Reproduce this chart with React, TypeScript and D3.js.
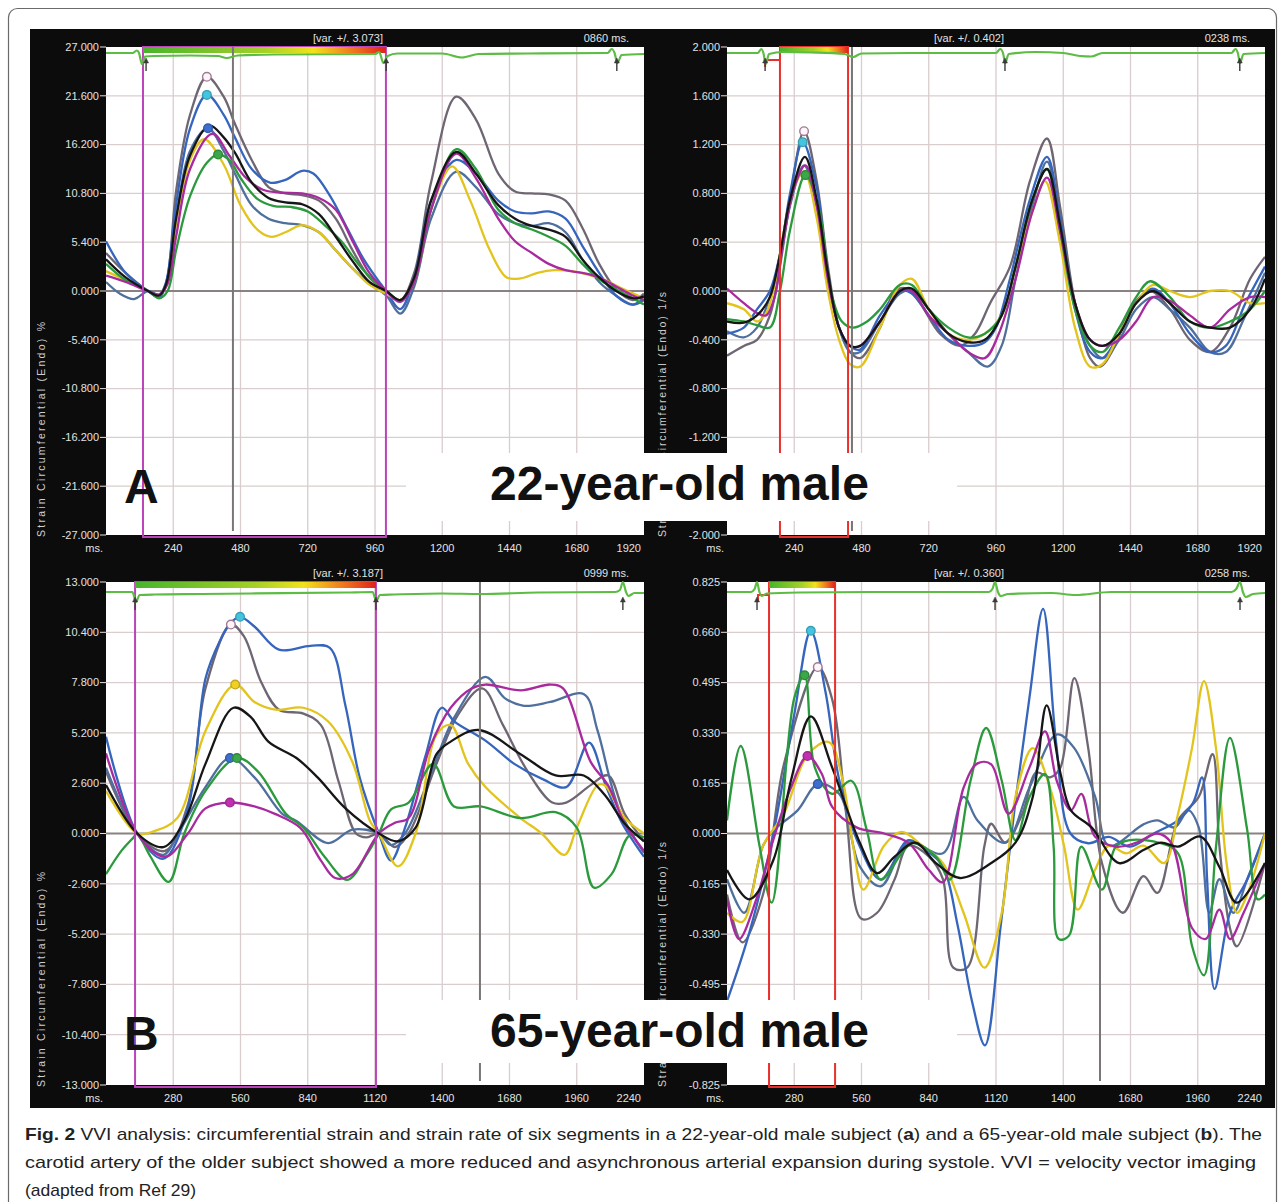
import React from 'react';
import * as d3 from 'd3';

type Pt = [number, number];
type Mark = [string, number, number];

const W = 1281;
const H = 1202;

const colors: Record<string, string> = {
  gray: '#6e6673',
  blue2: '#4f6f9d',
  blue1: '#3565bd',
  yellow: '#e2c41c',
  green: '#2b9a3c',
  magenta: '#a82a9e',
  black: '#161616',
};
const drawOrder = ['gray', 'blue2', 'blue1', 'yellow', 'green', 'magenta', 'black'];

const markerFill: Record<string, string> = {
  gray: '#fdf5fa',
  blue1: '#45c4e0',
  blue2: '#3d6fd0',
  green: '#3aa848',
  yellow: '#f0d020',
  magenta: '#c030b0',
};

// ---------- axes
const msTicksTop = [240, 480, 720, 960, 1200, 1440, 1680, 1920];
const msTicksBottom = [280, 560, 840, 1120, 1400, 1680, 1960, 2240];
const strainTicksA = [27, 21.6, 16.2, 10.8, 5.4, 0, -5.4, -10.8, -16.2, -21.6, -27];
const rateTicksA = [2, 1.6, 1.2, 0.8, 0.4, 0, -0.4, -0.8, -1.2, -1.6, -2];
const strainTicksB = [13, 10.4, 7.8, 5.2, 2.6, 0, -2.6, -5.2, -7.8, -10.4, -13];
const rateTicksB = [0.825, 0.66, 0.495, 0.33, 0.165, 0, -0.165, -0.33, -0.495, -0.66, -0.825];

// ---------- A: strain, 22-year-old (ms, %)
const aGray: Pt[] = [[0,4.2],[70,2.0],[150,0],[190,-0.6],[215,0.8],[250,11],[300,19.5],[360,23.7],[420,21.5],[460,18.5],[520,14.5],[580,11.5],[640,10.8],[700,10.6],[760,10.0],[820,8.0],[880,4.5],[940,1.5],[1000,0],[1050,-1.0],[1100,2],[1160,12],[1250,21.5],[1320,19],[1400,13],[1460,11],[1520,10.8],[1580,10.7],[1640,10],[1700,7],[1760,3],[1820,0.2],[1880,-1],[1920,-0.3]];
const aBlue1: Pt[] = [[0,5.5],[70,2.0],[150,0],[190,-0.7],[215,1.0],[250,9.5],[300,18],[360,21.7],[420,19.5],[460,17],[520,13.5],[585,12.0],[640,12.3],[700,13.3],[740,13.0],[800,10.5],[860,7],[920,3.5],[980,0.8],[1000,0],[1050,-2.0],[1100,1.5],[1160,10],[1250,14.5],[1320,13],[1400,10],[1460,8.8],[1520,8.6],[1580,8.8],[1640,8.0],[1700,5],[1760,2],[1820,-0.5],[1880,-1.5],[1920,-0.8]];
const aBlue2: Pt[] = [[0,1.0],[50,-0.3],[100,-0.9],[150,0],[190,-0.4],[215,1.0],[250,8],[300,15.5],[364,18.0],[420,15.5],[460,13],[520,9.5],[580,8.0],[640,7.5],[700,7.3],[760,6.5],[820,4.5],[880,2.5],[940,0.8],[1000,-0.5],[1050,-2.5],[1100,0.5],[1160,8],[1250,13.2],[1320,11.5],[1400,8.5],[1460,7.5],[1520,7.2],[1580,7.5],[1640,6.5],[1700,3.5],[1760,1],[1820,-0.5],[1880,-1.5],[1920,-1.0]];
const aBlack: Pt[] = [[0,3.5],[70,1.5],[150,0],[190,-0.5],[215,0.8],[250,8],[300,15],[370,18.3],[420,17],[460,15.3],[520,12],[580,10.3],[640,9.8],[700,9.6],[760,8.5],[820,6],[880,3.3],[940,1.0],[1000,0],[1050,-1.0],[1100,1.5],[1160,10],[1250,15.4],[1320,13],[1400,9.5],[1460,8.0],[1520,7.2],[1580,6.8],[1640,6.0],[1700,3.5],[1760,1.5],[1820,0],[1880,-0.8],[1920,-0.6]];
const aMagenta: Pt[] = [[0,1.7],[70,1.0],[150,0],[190,-0.4],[220,0.8],[250,6],[300,13.5],[380,17.4],[440,15],[500,12.5],[560,11.2],[620,10.9],[700,10.8],[760,10.3],[820,9.0],[880,5.5],[940,2.0],[1000,0],[1050,-1.2],[1100,1.0],[1160,9],[1250,15.2],[1320,12.5],[1400,8.0],[1460,5.5],[1520,4.2],[1580,3.0],[1640,2.3],[1700,2.0],[1760,1.5],[1820,0.5],[1880,-0.5],[1920,-1.0]];
const aYellow: Pt[] = [[0,2.2],[70,1.2],[150,0],[190,-0.5],[220,1.0],[250,7.5],[300,14.5],[350,16.8],[420,14],[480,9.5],[540,6.8],[590,6.0],[640,6.5],[700,7.3],[760,6.5],[820,4.5],[880,2.5],[940,0.7],[1000,-0.3],[1050,-1.0],[1100,1.0],[1160,9],[1235,13.8],[1300,10],[1370,4.5],[1430,1.5],[1480,1.4],[1540,2.0],[1600,2.3],[1660,2.2],[1720,1.8],[1780,1.2],[1840,0.3],[1920,-0.8]];
const aGreen: Pt[] = [[0,3.0],[70,1.2],[150,0],[190,-0.8],[220,0],[250,4.5],[300,10.5],[360,14.2],[400,15.1],[440,14.5],[480,12.5],[540,10.2],[600,9.4],[660,9.3],[720,8.8],[780,7.3],[840,5.5],[900,3.0],[960,1.0],[1000,0],[1050,-1.0],[1100,1.0],[1160,9],[1250,15.7],[1320,13.5],[1400,9.0],[1460,7.5],[1520,6.8],[1580,6.0],[1640,5.0],[1700,3.0],[1760,1.3],[1820,0.2],[1880,-0.8],[1920,-1.5]];
const aMarkers: Mark[] = [['gray',360,23.7],['blue1',360,21.7],['blue2',364,18.0],['green',400,15.1]];
const aEcg: Pt[] = [[0,0],[95,0],[110,0.25],[118,0],[128,-1.1],[140,-0.35],[170,-0.3],[300,-0.25],[400,-0.3],[430,-0.5],[470,-0.25],[600,-0.15],[960,-0.1],[975,0.1],[990,-1.0],[1005,-0.3],[1040,-0.05],[1200,-0.05],[1270,-0.45],[1330,-0.1],[1500,-0.05],[1790,0],[1805,0.4],[1815,0],[1825,-1.0],[1840,-0.2],[1920,-0.1]];

// ---------- A: strain rate, 22-year-old (ms, 1/s)
const arGray: Pt[] = [[0,-0.53],[60,-0.45],[107,-0.40],[153,-0.2],[189,0.2],[225,0.75],[275,1.31],[320,0.9],[360,0.2],[400,-0.3],[439,-0.5],[475,-0.55],[546,-0.3],[600,0.0],[640,0.02],[689,-0.1],[760,-0.35],[832,-0.45],[885,-0.35],[939,-0.1],[1010,0.2],[1081,0.9],[1142,1.25],[1188,0.7],[1242,-0.1],[1296,-0.55],[1331,-0.62],[1385,-0.45],[1438,-0.15],[1510,0.0],[1581,-0.15],[1652,-0.4],[1724,-0.5],[1795,-0.3],[1867,0.1],[1920,0.28]];
const arBlue1: Pt[] = [[0,-0.35],[60,-0.30],[107,-0.15],[153,0.0],[189,0.3],[225,0.8],[270,1.22],[320,0.85],[360,0.15],[400,-0.3],[439,-0.45],[475,-0.48],[546,-0.2],[617,0.0],[660,-0.02],[720,-0.2],[790,-0.4],[860,-0.45],[920,-0.42],[960,-0.3],[1010,0.1],[1081,0.75],[1142,1.1],[1188,0.6],[1242,-0.15],[1296,-0.5],[1340,-0.55],[1400,-0.35],[1460,-0.1],[1520,0.02],[1580,-0.1],[1652,-0.35],[1724,-0.5],[1780,-0.45],[1850,-0.1],[1920,0.2]];
const arBlue2: Pt[] = [[0,-0.33],[60,-0.38],[107,-0.3],[153,-0.05],[189,0.25],[225,0.7],[275,1.03],[320,0.7],[360,0.1],[400,-0.3],[439,-0.5],[475,-0.5],[546,-0.25],[617,-0.02],[660,0.0],[720,-0.15],[790,-0.35],[860,-0.5],[930,-0.62],[980,-0.45],[1030,0.1],[1090,0.7],[1142,1.06],[1188,0.6],[1242,-0.1],[1296,-0.45],[1340,-0.55],[1400,-0.4],[1460,-0.15],[1520,-0.05],[1580,-0.15],[1652,-0.3],[1724,-0.5],[1780,-0.5],[1850,-0.2],[1920,0.15]];
const arBlack: Pt[] = [[0,-0.25],[60,-0.26],[107,-0.2],[153,-0.05],[189,0.3],[225,0.75],[278,1.10],[320,0.75],[360,0.15],[400,-0.3],[439,-0.45],[475,-0.45],[546,-0.25],[617,0.0],[660,0.02],[720,-0.15],[790,-0.35],[860,-0.42],[920,-0.4],[980,-0.2],[1030,0.2],[1090,0.75],[1142,1.0],[1188,0.55],[1242,-0.1],[1296,-0.4],[1340,-0.45],[1400,-0.35],[1460,-0.1],[1520,0.0],[1580,-0.1],[1652,-0.25],[1724,-0.3],[1795,-0.3],[1867,-0.15],[1920,0.1]];
const arMagenta: Pt[] = [[0,0.02],[60,-0.1],[107,-0.18],[140,-0.2],[170,-0.05],[200,0.4],[240,0.85],[280,1.03],[320,0.7],[360,0.1],[400,-0.3],[439,-0.45],[475,-0.45],[546,-0.25],[617,0.0],[660,0.0],[720,-0.2],[790,-0.35],[860,-0.5],[920,-0.55],[970,-0.35],[1030,0.1],[1090,0.65],[1142,0.93],[1188,0.5],[1242,-0.1],[1296,-0.4],[1340,-0.45],[1400,-0.4],[1460,-0.25],[1520,-0.05],[1580,-0.08],[1652,-0.2],[1724,-0.3],[1795,-0.15],[1867,-0.05],[1920,-0.05]];
const arYellow: Pt[] = [[0,-0.1],[60,-0.15],[107,-0.25],[140,-0.18],[170,0.05],[200,0.45],[240,0.85],[275,0.98],[320,0.6],[360,0.0],[400,-0.4],[439,-0.6],[475,-0.62],[546,-0.3],[617,0.05],[660,0.1],[720,-0.15],[790,-0.35],[860,-0.4],[920,-0.35],[980,-0.2],[1030,0.2],[1090,0.65],[1135,0.9],[1188,0.4],[1242,-0.3],[1296,-0.62],[1340,-0.6],[1400,-0.35],[1460,-0.1],[1520,0.05],[1580,0.0],[1652,-0.05],[1724,0.0],[1795,0.0],[1867,-0.1],[1920,-0.1]];
const arGreen: Pt[] = [[0,-0.23],[60,-0.25],[107,-0.28],[153,-0.3],[189,0.0],[225,0.5],[280,0.95],[330,0.65],[370,0.0],[410,-0.25],[450,-0.3],[500,-0.25],[546,-0.15],[617,0.05],[660,0.05],[720,-0.15],[790,-0.3],[860,-0.38],[920,-0.35],[980,-0.2],[1030,0.2],[1090,0.75],[1142,1.0],[1188,0.5],[1242,-0.15],[1296,-0.45],[1340,-0.5],[1400,-0.3],[1460,-0.05],[1510,0.08],[1581,-0.05],[1652,-0.25],[1724,-0.3],[1795,-0.25],[1867,-0.15],[1920,0.0]];
const arMarkers: Mark[] = [['gray',275,1.31],['blue1',270,1.22],['green',280,0.95]];
const arEcg: Pt[] = [[0,0],[110,0],[122,0.4],[130,0],[138,-1.1],[150,-0.1],[200,0.1],[300,0.05],[420,-0.1],[450,-0.4],[480,-0.05],[700,0],[960,0],[975,0.4],[985,0],[993,-1.0],[1005,-0.1],[1100,0.1],[1200,0],[1260,-0.3],[1300,-0.35],[1340,0],[1800,0],[1815,0.4],[1823,0],[1831,-1.0],[1843,-0.1],[1920,0]];

// ---------- B: strain, 65-year-old (ms, %)
const bGray: Pt[] = [[0,3.2],[130,0],[246,-0.9],[341,1.5],[414,7.5],[520,10.8],[574,10.2],[647,7.8],[720,6.4],[822,6.2],[895,5.6],[968,2.7],[1041,0],[1085,-0.2],[1136,0],[1202,-0.7],[1260,0],[1376,3.6],[1464,6.1],[1566,7.5],[1653,5.6],[1756,3.2],[1858,1.6],[1916,1.6],[2018,2.5],[2090,3.0],[2160,1.0],[2240,-0.4]];
const bBlue1: Pt[] = [[0,5.0],[130,0],[239,-1.3],[341,1.3],[414,8.0],[472,9.9],[520,10.9],[558,11.2],[618,10.7],[720,9.5],[851,9.7],[932,9.6],[997,6.6],[1056,2.9],[1136,0],[1187,-1.4],[1245,0.3],[1330,4.0],[1398,6.5],[1450,5.8],[1580,4.8],[1700,3.6],[1820,2.8],[1916,2.4],[2011,4.7],[2080,2.5],[2150,0.5],[2240,-1.2]];
const bBlue2: Pt[] = [[0,3.4],[130,0],[239,-1.1],[300,0],[414,2.4],[516,3.9],[618,2.9],[735,1.0],[793,0.65],[925,-0.5],[1026,0.2],[1136,0],[1187,-0.6],[1245,0],[1350,3.0],[1450,6.0],[1580,8.1],[1660,7.0],[1740,6.6],[1850,6.8],[1990,7.2],[2047,5.3],[2135,1.3],[2240,-1.0]];
const bYellow: Pt[] = [[0,2.2],[130,0],[195,0.1],[297,0.8],[414,5.3],[538,7.7],[618,6.8],[706,6.4],[822,6.5],[924,5.8],[1026,3.7],[1099,0.65],[1136,0],[1216,-1.7],[1289,0],[1376,5.1],[1435,5.6],[1508,3.6],[1580,2.4],[1726,0.8],[1814,0],[1909,-1.1],[1960,0.3],[2047,2.5],[2076,2.5],[2160,0.8],[2240,0]];
const bBlack: Pt[] = [[0,2.5],[130,0],[239,-0.7],[326,0.65],[414,3.6],[531,6.5],[604,6.0],[676,4.75],[793,3.9],[881,2.9],[997,1.3],[1136,0],[1216,-0.4],[1289,0.3],[1376,4.1],[1435,4.75],[1551,5.35],[1726,4.1],[1872,3.0],[1989,3.0],[2076,2.0],[2160,0.5],[2240,-0.4]];
const bMagenta: Pt[] = [[0,4.15],[130,0],[246,-1.2],[341,0],[414,1.3],[516,1.6],[618,1.4],[706,1.0],[808,0.3],[895,-1.4],[954,-2.3],[1026,-2.1],[1136,0],[1202,0.55],[1260,0.8],[1347,4.4],[1435,6.5],[1522,7.5],[1580,7.7],[1726,7.4],[1851,7.7],[1903,7.5],[2018,3.7],[2090,2.5],[2160,0.5],[2240,-0.9]];
const bGreen: Pt[] = [[0,-2.1],[64,-0.9],[115,-0.2],[130,0],[181,-1.1],[261,-2.5],[326,0],[414,2.2],[545,3.9],[633,3.2],[750,1.0],[822,0.3],[910,-1.2],[1005,-2.4],[1085,-1.1],[1136,0],[1187,1.25],[1260,1.6],[1362,3.6],[1449,1.4],[1560,1.4],[1726,0.8],[1872,1.1],[1960,0.3],[2032,-2.8],[2105,-2.1],[2180,-0.1],[2240,-0.2]];
const bMarkers: Mark[] = [['gray',520,10.8],['blue1',558,11.2],['yellow',538,7.7],['blue2',516,3.9],['green',545,3.9],['magenta',516,1.6]];
const bEcg: Pt[] = [[0,0],[110,0],[125,-1.0],[140,-0.3],[200,-0.25],[400,-0.2],[600,-0.15],[1000,-0.05],[1110,0],[1125,-0.9],[1140,-0.3],[1200,-0.25],[1400,-0.15],[1560,-0.2],[1800,-0.05],[2120,0],[2140,0.2],[2152,1.0],[2165,0],[2175,-0.4],[2200,-0.1],[2240,-0.1]];

// ---------- B: strain rate, 65-year-old (ms, 1/s)
const brGray: Pt[] = [[0,-0.2],[64,-0.357],[150,-0.2],[237,0.227],[378,0.546],[438,0.44],[496,0.065],[560,-0.28],[625,-0.26],[698,-0.15],[755,-0.04],[841,-0.076],[899,-0.15],[942,-0.44],[1000,-0.44],[1072,-0.04],[1100,0.032],[1158,-0.03],[1230,0.065],[1288,0.2],[1345,0.184],[1388,0.216],[1446,0.51],[1504,0.28],[1561,-0.097],[1648,-0.26],[1734,-0.14],[1792,-0.195],[1878,0.043],[1964,0.12],[2022,0.26],[2050,-0.04],[2094,-0.31],[2123,-0.37],[2240,-0.097]];
const brBlue1: Pt[] = [[0,-0.55],[93,-0.325],[193,0],[280,0.39],[349,0.665],[410,0.465],[468,0.173],[553,-0.043],[640,-0.151],[755,-0.022],[827,-0.054],[899,-0.108],[960,-0.3],[1020,-0.55],[1074,-0.695],[1140,-0.3],[1200,0.1],[1260,0.45],[1316,0.737],[1370,0.3],[1430,0.0],[1504,-0.032],[1590,-0.011],[1677,-0.043],[1777,0.0],[1878,0.043],[1940,0.1],[1978,0.184],[1999,-0.151],[2030,-0.51],[2094,-0.26],[2166,-0.151],[2240,0]];
const brBlue2: Pt[] = [[0,-0.15],[72,-0.26],[150,-0.04],[193,0.01],[294,0.076],[378,0.162],[467,0.13],[553,-0.108],[640,-0.173],[755,-0.03],[899,-0.065],[985,0.12],[1043,0.043],[1158,-0.03],[1259,0.15],[1374,0.325],[1446,0.28],[1533,0.12],[1590,-0.04],[1734,0.03],[1792,0.043],[1864,0.02],[1921,0.076],[1964,0.02],[2008,-0.26],[2050,-0.15],[2108,-0.26],[2166,-0.15],[2240,0]];
const brBlack: Pt[] = [[0,-0.12],[93,-0.216],[193,-0.087],[266,0.173],[349,0.384],[438,0.216],[553,-0.03],[625,-0.13],[698,-0.076],[784,-0.03],[870,-0.097],[970,-0.146],[1100,-0.097],[1201,-0.03],[1273,0.12],[1331,0.42],[1389,0.195],[1432,0.076],[1518,0.02],[1633,-0.097],[1734,-0.054],[1806,-0.03],[1878,-0.043],[1971,-0.01],[2050,-0.11],[2122,-0.227],[2240,-0.097]];
const brMagenta: Pt[] = [[0,-0.216],[50,-0.346],[122,-0.216],[193,-0.02],[266,0.15],[335,0.254],[395,0.195],[438,0.087],[539,0.02],[654,0],[755,-0.03],[841,-0.12],[899,-0.16],[985,0.15],[1043,0.23],[1100,0.227],[1172,0.065],[1259,0.216],[1324,0.335],[1374,0.17],[1432,0.076],[1475,0.13],[1532,-0.01],[1619,-0.043],[1705,-0.03],[1792,0.0],[1849,-0.03],[1936,-0.31],[1993,-0.346],[2050,-0.25],[2094,-0.346],[2151,-0.26],[2240,-0.097]];
const brYellow: Pt[] = [[0,-0.26],[64,-0.29],[150,-0.04],[237,0.065],[337,0.26],[424,0.30],[482,0.173],[525,-0.04],[568,-0.184],[654,-0.04],[726,0.005],[813,-0.04],[899,-0.097],[985,-0.26],[1072,-0.44],[1144,-0.26],[1201,0.12],[1273,0.28],[1345,0.15],[1403,-0.04],[1460,-0.25],[1532,-0.12],[1590,-0.04],[1662,-0.065],[1734,-0.04],[1820,-0.097],[1878,0.065],[1936,0.28],[1986,0.50],[2036,0.28],[2080,-0.097],[2123,-0.26],[2166,-0.2],[2240,0]];
const brGreen: Pt[] = [[0,0.043],[57,0.287],[136,-0.043],[186,-0.227],[280,0.444],[323,0.519],[366,0.216],[438,0.13],[517,0.173],[582,0.011],[640,-0.151],[770,-0.032],[870,-0.076],[928,-0.151],[1014,0.173],[1079,0.346],[1144,0.173],[1201,-0.022],[1259,0.119],[1324,0.195],[1360,-0.043],[1381,-0.346],[1424,-0.335],[1475,-0.043],[1561,-0.184],[1619,-0.043],[1676,-0.022],[1806,-0.032],[1878,-0.065],[1936,-0.368],[1986,-0.465],[2036,-0.043],[2094,0.314],[2166,0.011],[2209,-0.216],[2240,-0.2]];
const brMarkers: Mark[] = [['blue1',349,0.665],['gray',378,0.546],['green',323,0.519],['magenta',335,0.254],['blue2',378,0.162]];
const brEcg: Pt[] = [[0,0],[100,0],[115,0.3],[125,1.0],[135,0],[145,-0.4],[165,-0.15],[300,-0.05],[600,0],[1090,0],[1105,0.3],[1116,1.0],[1128,0],[1140,-0.4],[1170,-0.2],[1350,-0.1],[1450,-0.3],[1600,0],[2100,0],[2120,0.3],[2136,1.0],[2148,0],[2160,-0.5],[2190,-0.2],[2240,-0.1]];

const captionLine1a = ' VVI analysis: circumferential strain and strain rate of six segments in a 22-year-old male subject (';
const captionLine1b = ') and a 65-year-old male subject (';
const captionLine1c = '). The';
const captionLine2 = 'carotid artery of the older subject showed a more reduced and asynchronous arterial expansion during systole. VVI = velocity vector imaging';
const captionLine3 = '(adapted from Ref 29)';

const FONT = "'Liberation Sans', Arial, sans-serif";
const LABEL = '#e2e2e2';

function Panel(p: any) {
  const { id, L, R, T, B, xMax, xTicks, yTicks, hiddenTicks, series, markers, ecg, ecgBase, arrows, boxMs, boxColor, stepMs, cursorMs, varText, msText, title, titleLen } = p;
  const yMax = yTicks[0];
  const x = d3.scaleLinear().domain([0, xMax]).range([L, R]);
  const y = d3.scaleLinear().domain([-yMax, yMax]).range([B, T]);
  const ey = d3.scaleLinear().domain([-1, 1]).range([T + ecgBase + 10, T + ecgBase - 10]);
  const line = d3.line<Pt>().x(d => x(d[0])).y(d => y(d[1])).curve(d3.curveCatmullRom.alpha(0.5));
  const ecgLine = d3.line<Pt>().x(d => x(d[0])).y(d => ey(d[1])).curve(d3.curveMonotoneX);
  const bx0 = x(boxMs[0]);
  const bx1 = x(boxMs[1]);
  const shownTicks = yTicks.filter((t: number) => !(hiddenTicks || []).includes(t));
  return (
    <g>
      <defs>
        <clipPath id={`clip-${id}`}>
          <rect x={L} y={T} width={R - L} height={B - T} />
        </clipPath>
        <linearGradient id={`grad-${id}`} x1="0" x2="1" y1="0" y2="0">
          <stop offset="0" stopColor="#46b42c" />
          <stop offset="0.5" stopColor="#a6d028" />
          <stop offset="0.7" stopColor="#f2e21c" />
          <stop offset="0.86" stopColor="#f07a1e" />
          <stop offset="1" stopColor="#e0221c" />
        </linearGradient>
      </defs>
      <rect x={L} y={T} width={R - L} height={B - T} fill="#fff" />
      {xTicks.slice(0, -1).map((t: number) => (
        <line key={`vx${t}`} x1={x(t)} x2={x(t)} y1={T} y2={B} stroke="#d9cdcd" strokeWidth={1.3} />
      ))}
      {yTicks.filter((t: number) => Math.abs(t) < yMax && t !== 0).map((t: number) => (
        <line key={`hy${t}`} x1={L} x2={R} y1={y(t)} y2={y(t)} stroke="#d9cdcd" strokeWidth={1.3} />
      ))}
      <line x1={L} x2={R} y1={y(0)} y2={y(0)} stroke="#8a8282" strokeWidth={2} />
      <g clipPath={`url(#clip-${id})`}>
        {drawOrder.map(k => (
          <path key={k} d={line(series[k]) || ''} fill="none" stroke={colors[k]} strokeWidth={2.3} strokeLinejoin="round" />
        ))}
      </g>
      {/* selection box */}
      <path d={`M${bx0},${T} V${B + 2} H${bx1} V${T} Z`} fill="none" stroke={boxColor} strokeWidth={2} />
      {stepMs && (
        <path d={`M${x(stepMs[0])},${T + 20} V${T + 13} H${x(stepMs[1])}`} fill="none" stroke={boxColor} strokeWidth={2} />
      )}
      <rect x={bx0} y={T} width={bx1 - bx0} height={6} fill={`url(#grad-${id})`} />
      <line x1={x(cursorMs)} x2={x(cursorMs)} y1={T} y2={B - 4} stroke="#7a7676" strokeWidth={2} />
      <path d={ecgLine(ecg) || ''} fill="none" stroke="#5cbc44" strokeWidth={2.2} />
      {arrows.map((a: number) => (
        <g key={`ar${a}`} stroke="#3a3a3a" fill="#3a3a3a">
          <line x1={x(a)} x2={x(a)} y1={T + ecgBase + 8} y2={T + ecgBase + 18} strokeWidth={1.4} />
          <path d={`M${x(a) - 2.5},${T + ecgBase + 10} L${x(a)},${T + ecgBase + 5} L${x(a) + 2.5},${T + ecgBase + 10} Z`} strokeWidth={0.5} />
        </g>
      ))}
      {markers.map((m: Mark, i: number) => (
        <circle key={`mk${i}`} cx={x(m[1])} cy={y(m[2])} r={4.3}
          fill={markerFill[m[0]]} stroke={m[0] === 'gray' ? '#a07a94' : d3.color(markerFill[m[0]])!.darker(0.6).toString()} strokeWidth={1.4} />
      ))}
      {/* axis text */}
      {shownTicks.map((t: number) => (
        <g key={`yl${t}`}>
          <line x1={L - 6} x2={L} y1={y(t)} y2={y(t)} stroke={LABEL} strokeWidth={1} />
          <text x={L - 7} y={y(t)} dy="0.35em" textAnchor="end" fontSize={11} fill={LABEL} fontFamily={FONT}>
            {t.toFixed(3)}
          </text>
        </g>
      ))}
      <text x={L - 3} y={B + 17} textAnchor="end" fontSize={11} fill={LABEL} fontFamily={FONT}>ms.</text>
      {xTicks.map((t: number, i: number) => (
        <text key={`xl${t}`} x={i === xTicks.length - 1 ? R - 3 : x(t)} y={B + 17}
          textAnchor={i === xTicks.length - 1 ? 'end' : 'middle'} fontSize={11} fill={LABEL} fontFamily={FONT}>
          {t}
        </text>
      ))}
      <text x={L + 277} y={T - 5} textAnchor="end" fontSize={11} fill={LABEL} fontFamily={FONT}>{varText}</text>
      <text x={R - 15} y={T - 5} textAnchor="end" fontSize={11} fill={LABEL} fontFamily={FONT}>{msText}</text>
      <text transform={`translate(${L - 61},${B + 2}) rotate(-90)`} fontSize={10.5} fill="#cfcfcf" fontFamily={FONT}
        textLength={titleLen} lengthAdjust="spacing">
        {title}
      </text>
    </g>
  );
}

export default function App() {
  const strainTitle = 'Strain Circumferential (Endo)  %';
  const rateTitle = 'Strain Rate Circumferential (Endo)  1/s';
  return (
    <svg width={W} height={H} style={{ position: 'absolute', left: 0, top: 0 }} xmlns="http://www.w3.org/2000/svg">
      <rect x={0} y={0} width={W} height={H} fill="#fff" />
      <rect x={8.5} y={8.5} width={1268} height={1250} rx={9} fill="none" stroke="#6a6a6a" strokeWidth={1.2} />
      <rect x={30} y={29} width={1245} height={1079} fill="#0c0c0c" />
      <Panel id="a" L={106} R={644} T={47} B={535} xMax={1920} xTicks={msTicksTop} yTicks={strainTicksA}
        series={{ gray: aGray, blue1: aBlue1, blue2: aBlue2, black: aBlack, magenta: aMagenta, yellow: aYellow, green: aGreen }}
        markers={aMarkers} ecg={aEcg} ecgBase={6} arrows={[143, 1000, 1823]} boxMs={[132, 999]} boxColor="#bb44bb"
        cursorMs={453} varText="[var. +/. 3.073]" msText="0860 ms." title={strainTitle} titleLen={215} />
      <Panel id="ar" L={727} R={1265} T={47} B={535} xMax={1920} xTicks={msTicksTop} yTicks={rateTicksA} hiddenTicks={[-1.6]}
        series={{ gray: arGray, blue1: arBlue1, blue2: arBlue2, black: arBlack, magenta: arMagenta, yellow: arYellow, green: arGreen }}
        markers={arMarkers} ecg={arEcg} ecgBase={6} arrows={[136, 992, 1830]} boxMs={[189, 432]} boxColor="#e8302c"
        stepMs={[136, 189]} cursorMs={446} varText="[var. +/. 0.402]" msText="0238 ms." title={rateTitle} titleLen={245} />
      <Panel id="b" L={106} R={644} T={582} B={1085} xMax={2240} xTicks={msTicksBottom} yTicks={strainTicksB}
        series={{ gray: bGray, blue1: bBlue1, blue2: bBlue2, black: bBlack, magenta: bMagenta, yellow: bYellow, green: bGreen }}
        markers={bMarkers} ecg={bEcg} ecgBase={10} arrows={[121, 1124, 2152]} boxMs={[121, 1124]} boxColor="#bb44bb"
        cursorMs={1557} varText="[var. +/. 3.187]" msText="0999 ms." title={strainTitle} titleLen={215} />
      <Panel id="br" L={727} R={1265} T={582} B={1085} xMax={2240} xTicks={msTicksBottom} yTicks={rateTicksB} hiddenTicks={[-0.66]}
        series={{ gray: brGray, blue1: brBlue1, blue2: brBlue2, black: brBlack, magenta: brMagenta, yellow: brYellow, green: brGreen }}
        markers={brMarkers} ecg={brEcg} ecgBase={10} arrows={[125, 1116, 2136]} boxMs={[175, 450]} boxColor="#e8302c"
        stepMs={[129, 175]} cursorMs={1553} varText="[var. +/. 0.360]" msText="0258 ms." title={rateTitle} titleLen={245} />

      {/* subject labels */}
      <rect x={406} y={453} width={551} height={68} fill="#fff" />
      <rect x={406} y={1000} width={551} height={63} fill="#fff" />
      <text x={124} y={503} fontSize={48} fontWeight="bold" fontFamily={FONT} fill="#111">A</text>
      <text x={490} y={500} fontSize={48} fontWeight="bold" fontFamily={FONT} fill="#111">22-year-old male</text>
      <text x={124} y={1050} fontSize={48} fontWeight="bold" fontFamily={FONT} fill="#111">B</text>
      <text x={490} y={1047} fontSize={48} fontWeight="bold" fontFamily={FONT} fill="#111">65-year-old male</text>

      {/* caption */}
      <g fontFamily={FONT} fontSize={17} fill="#222">
        <text x={25} y={1140} textLength={1237} lengthAdjust="spacingAndGlyphs">
          <tspan fontWeight="bold">Fig. 2</tspan>
          <tspan>{captionLine1a}</tspan>
          <tspan fontWeight="bold">a</tspan>
          <tspan>{captionLine1b}</tspan>
          <tspan fontWeight="bold">b</tspan>
          <tspan>{captionLine1c}</tspan>
        </text>
        <text x={25} y={1168} textLength={1231} lengthAdjust="spacingAndGlyphs">{captionLine2}</text>
        <text x={25} y={1196} textLength={171} lengthAdjust="spacingAndGlyphs">{captionLine3}</text>
      </g>
    </svg>
  );
}
